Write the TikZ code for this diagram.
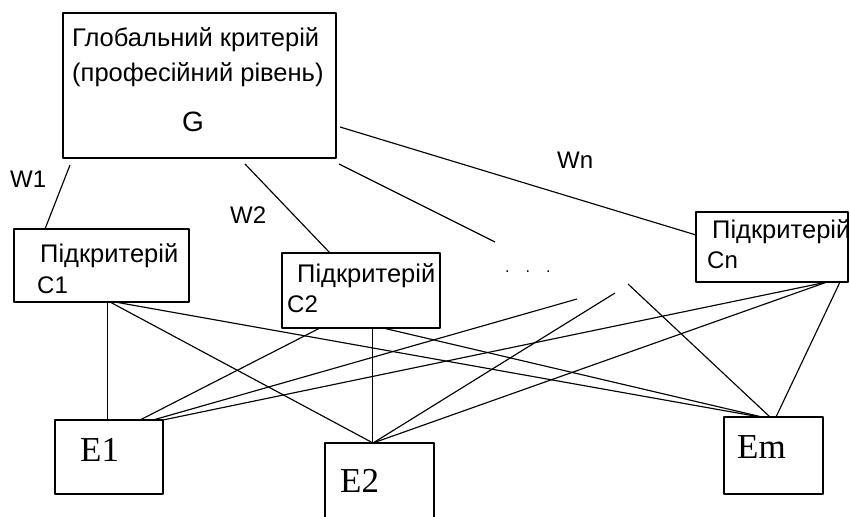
\documentclass[tikz,border=0pt]{standalone}
\usepackage{fontspec}
\setmainfont{Liberation Sans}
\newfontfamily\timesfont{Liberation Serif}
\usetikzlibrary{positioning,calc}
\tikzset{
  box/.style={draw,line width=1.4pt,inner sep=0pt,outer sep=0pt,anchor=north west},
  lbl/.style={inner sep=0pt,anchor=base west,font=\fontsize{24}{28}\selectfont},
  ttl/.style={lbl,font=\fontsize{25.5}{30}\selectfont},
  elbl/.style={inner sep=0pt,anchor=base west,font=\timesfont\fontsize{35}{40}\selectfont},
  link/.style={line width=1.15pt},
}

\begin{document}
\begin{tikzpicture}[x=1pt,y=-1pt,line join=round]
  \useasboundingbox (0,0) rectangle (850,516);
  \clip (0,0) rectangle (850,516);
  % global criterion
  \node[box,minimum width=273pt,minimum height=145pt] (G) at (63,13) {};
  \node[ttl] (gtitle) at (72,47) {Глобальний критерій};
  \node[ttl] (gsub) at (72,82) {(професійний рівень)};
  \node[lbl,anchor=base,font=\fontsize{28}{32}\selectfont] (gsym) at (193,131) {G};
  % subcriteria
  \node[box,minimum width=175pt,minimum height=73pt] (C1) at (14,229) {};
  \node[ttl] (c1title) at (40,262) {Підкритерій};
  \node[lbl] (c1sym) at (37,293) {C1};
  \node[box,minimum width=158pt,minimum height=75pt] (C2) at (282,253) {};
  \node[ttl] (c2title) at (297,282) {Підкритерій};
  \node[lbl] (c2sym) at (287,312) {C2};
  \node[box,minimum width=152pt,minimum height=70pt] (Cn) at (696,212) {};
  \node[ttl] (cntitle) at (712,238) {Підкритерій};
  \node[lbl] (cnsym) at (707,268) {Cn};
  \node[inner sep=0pt,anchor=base west,font=\fontsize{16}{18}\selectfont] (dots) at (505,272) {.\quad.\quad.};
  % experts
  \node[box,minimum width=108pt,minimum height=74pt] (E1) at (55,420) {};
  \node[elbl] (e1sym) at (80,461) {E1};
  \node[box,minimum width=109pt,minimum height=90pt] (E2) at (325,443) {};
  \node[elbl] (e2sym) at (340,492) {E2};
  \node[box,minimum width=99pt,minimum height=77pt] (Em) at (724,417) {};
  \node[elbl] (emsym) at (737,458) {Em};
  % weights
  \node[lbl] (w1) at (10,187) {W1};
  \node[lbl] (w2) at (230,223) {W2};
  \node[lbl] (wn) at (557,168) {Wn};
  % loose ends towards the omitted subcriteria
  \coordinate (d0) at (495,242);
  \coordinate (da) at (577,299);
  \coordinate (db) at (615,293);
  \coordinate (dc) at (628,284);
  % G -- subcriteria
  \draw[link] ([shift={(7,7)}]G.south west) -- ([shift={(31,0)}]C1.north west);
  \draw[link] ([shift={(182,6)}]G.south west) -- ([shift={(48,0)}]C2.north west);
  \draw[link] ([shift={(4,-31)}]G.south east) -- ([shift={(0,-12)}]Cn.west);
  \draw[link] ([shift={(3,6)}]G.south east) -- (d0);
  % subcriteria -- experts
  \draw[link] ([shift={(6,0)}]C1.south) -- ([shift={(-1.5,0)}]E1.north);
  \draw[link] ([shift={(8.5,0)}]C1.south) -- ([shift={(-6.5,0)}]E2.north);
  \draw[link] ([shift={(13.5,0)}]C1.south) -- ([shift={(-13.5,0)}]Em.north);
  \draw[link] ([shift={(-41,0)}]C2.south) -- ([shift={(31,0)}]E1.north);
  \draw[link] ([shift={(11.5,0)}]C2.south) -- ([shift={(-7,0)}]E2.north);
  \draw[link] ([shift={(22,0)}]C2.south) -- ([shift={(-11.5,0)}]Em.north);
  \draw[link] ([shift={(55,0)}]Cn.south) -- (E1.north east);
  \draw[link] ([shift={(55,0)}]Cn.south) -- ([shift={(-6.5,0)}]E2.north);
  \draw[link] ([shift={(68,0)}]Cn.south) -- ([shift={(2.5,0)}]Em.north);
  \draw[link] (da) -- ([shift={(44,0)}]E1.north);
  \draw[link] (db) -- ([shift={(-6.5,0)}]E2.north);
  \draw[link] (dc) -- ([shift={(-3.5,0)}]Em.north);
\end{tikzpicture}
\end{document}
